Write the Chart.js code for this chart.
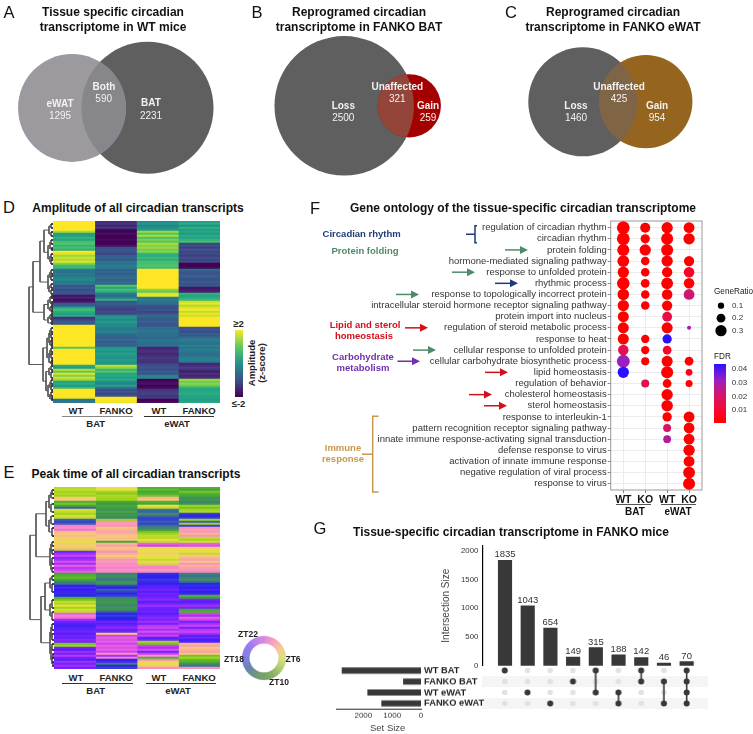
<!DOCTYPE html>
<html><head><meta charset="utf-8">
<script src="https://cdn.jsdelivr.net/npm/chart.js@4"></script>
<style>
html,body{margin:0;padding:0;background:#fff;width:753px;height:734px;overflow:hidden;position:relative;font-family:"Liberation Sans",Arial,sans-serif}
canvas{position:absolute}
.t{position:absolute;white-space:nowrap;transform:translate(-50%,-50%);line-height:1}
.r{position:absolute}
</style></head><body>
<script>
/* ---------- Venn panels A, B, C ---------- */
const vennCounts=[2821,1885,2821,580,1885,1379];
const vennScale=[1.243,1.243,1.313,1.313,1.256,1.256];
const vennX=[147.5,72,344.2,409.3,582.8,645.8];
const vennY=[107.8,108,105.8,105.8,101.8,101.7];
const vennColors=['#5f5f5f','#9c9a9f','#5f5f60','#a50000','#5f5f60','#95651f'];
const vennPairs=[[0,1,'#87868a'],[2,3,'#93453a'],[4,5,'#7f6546']];

/* ---------- Heatmap D: amplitude z-scores per transcript cluster row ---------- */
const ampBatWt=[2,2,2,2,2,1.5,.2,.2,.6,.3,.8,.9,.6,.8,.5,2,1.8,1.4,1.7,1.5,1.8,1.2,.7,.7,-.4,-.6,-.3,-.5,-.2,-.1,-.4,-.3,-1,-.8,-1.1,-.9,-1,-1.8,-1.6,-1.9,-1.7,-.9,-.7,.4,.8,.5,.2,.5,-1.5,-1.2,-.8,-.9,2,2,2,2,2,2,2,2,2,2,2,.9,2,2,2,2,2,2,2,2,.4,.1,1.6,1,1.8,1.2,1.7,1.4,.3,.5,.1,.7,2,2,2,2,1.9,-.5,-.4];
const ampBatFanko=[-1.5,-1.4,-1.6,-1.3,-1.9,-2,-1.8,-2,-2,-1.9,-2,-2,-1.8,-1.1,-.9,-1,-1.2,-.8,-.7,-1,-.4,-.5,-.3,-.4,-.8,-.6,-.9,-.7,-.5,-.8,-.6,-.7,.9,.4,.8,.5,-.4,-.6,-.3,.6,-.9,-.8,-1,-1.2,-1.3,-1.1,-1.2,-.1,.1,-.2,.2,0,-.1,-.3,-.4,-.2,-.5,-.7,-.8,-.6,-.9,-.7,-.8,.1,.2,0,.3,.1,0,.2,.1,0,1.6,1.3,.6,.9,.3,.4,.2,.5,0,-.3,.3,-.5,-1.1,-.9,-1.2,-1,2,2,1.9];
const ampEwatWt=[-.1,.1,-.2,0,.2,1.4,.9,1.5,.8,1.2,.9,1.5,1.2,1.4,1.1,1.3,.6,.5,.7,.5,.8,.8,.9,.7,2,2,2,2,2,2,2,2,2,2,1.3,1,1.8,1.9,-.4,-.3,-.5,-.6,-1,-1.1,-.9,-1.2,-1,-.6,-.8,-.9,-.7,-1,-.9,-.6,-.5,-.4,-.6,-.5,-.7,-.4,-.5,-.6,-.5,-1.6,-1.5,-1.4,-1.6,-1.5,-1.3,-1.4,-1.5,-1.2,-1,-.9,-1.1,-.8,-1,-.2,-.1,-2,-1.9,-1.8,-2,-1.9,-1.4,-1.3,-1.2,-1.4,-1.3,-2,-1.9];
const ampEwatFanko=[.2,.5,0,.6,.2,.4,.1,.5,.3,.6,.8,-1.2,-1,-1.3,-.9,-1.2,-1.1,-1.3,-1,-1.2,-1.1,-2,-2,-1.9,-.6,-.9,-1,-.7,-.9,-1.1,-.8,-1,-.9,-1.8,-1.7,-1.6,.6,.3,.5,.7,1.7,1.9,1.5,1.8,2,1.6,1.9,1.7,2,2,2,2,2,-1,-.9,-1.1,-.8,-.9,-.5,-.3,-.4,-.6,-.2,-.5,-.3,-.4,-.6,-.5,-.3,-.2,-.4,-1.6,-1.5,-1.2,-1.5,-1.7,-1.4,-1.6,-1.5,1.4,1.1,1.3,1,.5,.3,.4,.5,.3,.3,.2,.4];
const treeD=[24,[20,[13,[9,[4,[2,1,3],[2,5,7]],[5,[3,[2,9,11],[1,13,14]],[3,[2,16,18],[2,19,21]]]],[5,[3,[2,24,26],[2,27,29]],[4,[2,31,33],[2,34,36]]]],[9,[5,[3,[2,37,38],[2,40,41]],[3,[2,42,43],[1,44,45]]],[5,[3,[2,46,47],[2,48,49]],[2,50,51]]]],[10,[6,[4,[3,[2,53,55],[2,56,58]],[3,[2,59,60],[2,61,62]]],[4,[3,[2,63,65],[2,66,68]],[2,[1,69,70],71]]],[7,[4,[2,72,74],[2,75,78]],[5,[3,[2,79,81],[2,82,84]],[3,[2,85,87],[1,88,89]]]]]];

/* ---------- Heatmap E: peak time (ZT hour) per row ---------- */
const peakBatWt=[7.5,7,8,7.5,8,4,4,10,9,11,16,6.5,7,8,6.5,7,16,17,16,0,1,23.5,3,4.5,3,5,4,6,4,5,3.5,7,20,21,22,20.5,21,22.5,21,23,21.5,22,23,11,10,9.5,11,14,15,18,19,18,18.5,17.5,18,10,9,7,7.5,6,8,6.5,7,23,0,23.5,21,20,19,18.5,19,19.5,20,19,20,19.5,20.5,20,9,8,20,19,21,20,21.5,20,19,21,20,21,20];
const peakBatFanko=[6,5.5,8,8.5,7.5,8,8,11,12,11,11.5,13,11,13,12,14,8,1,2,1,4,3,2,3,4,3.5,4,11,3,2,4,3,1,2.5,5,3,1,2,.5,1,0,1,.5,14,13,14,15,12,13,17,18,16,17,18,17,14,13,12,13,14,12,13,16,18,17,18,18,20,19,20,20.5,19.5,20,5,22,23,22.5,23,22,23,22.5,23,22,1,21,0,18,19,14,18,17];
const peakEwatWt=[10,9.5,11,10,9,3,4,10,11,6,7,15,16,13,15,17,17,16,17,15,14,12,9,8,7,7.5,6,7,23,22,5,6,5,4,6,6,7,5,6.5,1,0,2,.5,17.5,18,18,17,18.5,18,19,19.5,20,19,20,19.5,20,20.5,19,20,21,20,19.5,20,19,20,20.5,20,21,20,21.5,22,21,22.5,21,22,19,20,8,9,22,21,22.5,20,22,1,10,.5,5,6,4,1];
const peakEwatFanko=[10,11,9,10,11,13,12,14,13,8,9,8,7.5,17,18,17,8,16,8,17,1,2,1.5,3,1,7,8,6.5,23,22.5,4,6,5,7,4,3,2,4,1,3,2,1.5,.5,14,15,14,13,15,18,17.5,18,19,18,18.5,10,12,20,19,20,21,20,11,10,22,21,23,22,20,21,22,20,21.5,22,21,19,20,18.5,19,3,2,4,3,2,4,9,8,9.5,10,13,15,1];
const treeE=[24,[18,[8,[5,[3,[2,1,3],5],[3,8,12]],[5,[3,14,18],[2,20,24]]],[4,[3,[2,27,29],[2,31,33]],[3,[2,35,38],[2,40,42]]]],[13,[9,[4,[2,44,46],[2,48,52]],[4,[2,56,60],[2,62,66]]],[4,[3,[2,68,71],[2,73,76]],[3,[2,78,81],[2,[1,83,85],[1,87,89]]]]]];
const rowNames=ampBatWt.map((_,i)=>'row '+(i+1));
const heatColumns=['WT','FANKO','WT','FANKO'];

/* ---------- Dot plot F ---------- */
const goTerms=['regulation of circadian rhythm','circadian rhythm','protein folding','hormone-mediated signaling pathway','response to unfolded protein','rhythmic process','response to topologically incorrect protein','intracellular steroid hormone receptor signaling pathway','protein import into nucleus','regulation of steroid metabolic process','response to heat','cellular response to unfolded protein','cellular carbohydrate biosynthetic process','lipid homeostasis','regulation of behavior','cholesterol homeostasis','sterol homeostasis','response to interleukin-1','pattern recognition receptor signaling pathway','innate immune response-activating signal transduction','defense response to virus','activation of innate immune response','negative regulation of viral process','response to virus'];
const goColumns=['WT','KO','WT','KO'];
const _=null;
const ratioBatWt=[.36,.36,.33,.32,.3,.35,.31,.3,.29,.29,.29,.27,.36,.3,_,_,_,_,_,_,_,_,_,_];
const ratioBatKo=[.25,.22,.3,.19,.19,.2,.19,.19,_,_,.18,.18,.17,_,.17,_,_,_,_,_,_,_,_,_];
const ratioEwatWt=[.3,.33,.33,.3,.26,.32,.27,.26,.24,.29,.22,.2,.29,.33,.2,.3,.31,.22,.17,.16,_,_,_,_];
const ratioEwatKo=[.28,.3,_,.26,.27,.27,.28,_,_,.01,_,_,.2,.12,.13,_,_,.28,.28,.28,.3,.28,.32,.33];
const fdrBatWt=[0,0,0,0,0,0,0,0,0,0,0,.014,.03,.042,_,_,_,_,_,_,_,_,_,_];
const fdrBatKo=[0,0,0,0,0,0,0,0,_,_,0,0,0,_,.013,_,_,_,_,_,_,_,_,_];
const fdrEwatWt=[0,0,0,0,0,0,0,0,.012,0,.042,.006,0,0,0,0,0,0,.018,.025,_,_,_,_];
const fdrEwatKo=[0,0,_,0,.006,0,.02,_,_,.028,_,_,0,.004,0,_,_,0,0,0,0,0,0,0];
const arrowTerms=[[2,505,528,'#4f8a6a'],[4,452,475,'#4f8a6a'],[5,495,518,'#1f3a7a'],[6,396,419,'#4f8a6a'],[9,405,428,'#d0101a'],[11,413,436,'#4f8a6a'],[12,397.5,420,'#7030b0'],[13,485,508,'#d0101a'],[15,469,492,'#d0101a'],[16,484,507,'#d0101a']];
const ratioLegend=[.1,.2,.3];

/* ---------- UpSet G ---------- */
const setNames=['WT BAT','FANKO BAT','WT eWAT','FANKO eWAT'];
const setSizes=[2740,610,1850,1365];
const setSizeTicks=[0,1000,2000];
const intersectionSizes=[1835,1043,654,149,315,188,142,46,70];
const intersectionTicks=[0,500,1000,1500,2000];
const intersectionMembers=[[0],[2],[3],[1],[0,2],[2,3],[0,1],[1,3],[0,1,2,3]];

/* ---------- helpers ---------- */
Chart.defaults.font.family='"Liberation Sans",Arial,sans-serif';
Chart.defaults.animation=false;
Chart.defaults.responsive=false;
Chart.defaults.maintainAspectRatio=false;
Chart.defaults.events=[];
Chart.defaults.layout.autoPadding=false;
Chart.defaults.plugins.legend.display=false;
Chart.defaults.plugins.tooltip.enabled=false;
function mk(x,y,w,h){const c=document.createElement('canvas');c.width=w;c.height=h;c.style.left=x+'px';c.style.top=y+'px';c.style.width=w+'px';c.style.height=h+'px';document.body.appendChild(c);return c.getContext('2d');}
function T(x,y,s,o={}){const d=document.createElement('div');d.className='t';d.textContent=s;d.style.left=x+'px';d.style.top=y+'px';d.style.fontSize=(o.size||10)+'px';d.style.fontWeight=o.bold?'bold':'normal';d.style.color=o.color||'#111';if(o.rot)d.style.transform='translate(-50%,-50%) rotate('+o.rot+'deg)';if(o.left)d.style.transform='translate(0,-50%)';document.body.appendChild(d);}
function R(x,y,w,h,bg){const d=document.createElement('div');d.className='r';d.style.cssText+=`left:${x}px;top:${y}px;width:${w}px;height:${h}px;background:${bg}`;document.body.appendChild(d);}
function hex(c){return [1,3,5].map(i=>parseInt(c.substr(i,2),16));}
function ramp(stops,v){if(v<=stops[0][0])return stops[0][1];for(let i=1;i<stops.length;i++){if(v<=stops[i][0]){const f=(v-stops[i-1][0])/(stops[i][0]-stops[i-1][0]);const a=hex(stops[i-1][1]),b=hex(stops[i][1]);return 'rgb('+a.map((p,k)=>Math.round(p+(b[k]-p)*f)).join(',')+')';}}return stops[stops.length-1][1];}
const viridisStops=[[-2,'#440154'],[-1.5,'#472d7b'],[-1,'#3b528b'],[-.5,'#2c728e'],[0,'#21918c'],[.5,'#28ae80'],[1,'#5ec962'],[1.5,'#addc30'],[2,'#fde725']];
const peakStops=[[0,'#f77fd0'],[2,'#f9a0b0'],[4,'#f8c878'],[6,'#e6e23a'],[8,'#a0d41e'],[10,'#4fb22e'],[12,'#3f9a45'],[14,'#3c8572'],[16,'#3a5fb0'],[18,'#2f22f0'],[20,'#7422ff'],[22,'#d040f0'],[24,'#f77fd0']];
const fdrStops=[[0,'#ff0000'],[.005,'#fa0222'],[.01,'#f00a3c'],[.02,'#cf1670'],[.03,'#9a1fc0'],[.042,'#2a10ff']];
const ringStops=[[0,'#d888e0'],[25,'#f598c8'],[60,'#f7c890'],[90,'#dce080'],[120,'#b0d070'],[160,'#80a860'],[200,'#6f9a70'],[240,'#6a80b0'],[270,'#7a80e0'],[310,'#9a78ee'],[340,'#c080e8'],[360,'#d888e0']];

/* Venn */
new Chart(mk(0,0,753,190),{type:'bubble',
 data:{datasets:[{data:vennCounts.map((n,i)=>({x:vennX[i],y:vennY[i],r:vennScale[i]*Math.sqrt(n)})),backgroundColor:vennColors,borderWidth:0,hoverRadius:0}]},
 options:{layout:{padding:0},scales:{x:{display:false,min:0,max:753},y:{display:false,min:0,max:190,reverse:true}}},
 plugins:[{id:'overlap',afterDatasetsDraw(c){const pts=c.getDatasetMeta(0).data,g=c.ctx;vennPairs.forEach(([a,b,col])=>{const A=pts[a],B=pts[b];g.save();g.beginPath();g.arc(A.x,A.y,A.options.radius,0,7);g.clip();g.beginPath();g.arc(B.x,B.y,B.options.radius,0,7);g.fillStyle=col;g.fill();g.restore();});}}]});

/* Heatmaps */
function heat(x,y,w,h,cols,color){
 new Chart(mk(x,y,w,h),{type:'bar',
  data:{labels:rowNames,datasets:cols.map((arr,c)=>({data:arr.map(()=>[c,c+1]),backgroundColor:arr.map(color),borderWidth:0,barPercentage:1,categoryPercentage:1,grouped:false}))},
  options:{indexAxis:'y',layout:{padding:0},scales:{x:{type:'linear',display:false,min:0,max:4},y:{display:false}}}});
}
function tree(node,out,leaves){
 if(typeof node==='number'){leaves.push({x:.9,y:node});return{h:0,y:node};}
 const a=tree(node[1],out,leaves),b=tree(node[2],out,leaves),h=node[0];
 out.push({x:a.h,y:a.y},{x:h,y:a.y},{x:h,y:b.y},{x:b.h,y:b.y},{x:NaN,y:NaN});
 return{h,y:(a.y+b.y)/2};
}
function dendro(x,y,w,h,t){
 const segs=[],leaves=[];tree(t,segs,leaves);
 new Chart(mk(x,y,w,h),{type:'scatter',
  data:{datasets:[{data:leaves,pointRadius:1,backgroundColor:'#222',borderWidth:0},
   {data:segs,showLine:true,spanGaps:false,borderColor:'#5a5a5a',borderWidth:1,pointRadius:0}]},
  options:{layout:{padding:0},scales:{x:{display:false,min:0,max:w,reverse:true},y:{display:false,min:-.5,max:90.5,reverse:true}}}});
}
heat(53,220.7,167,182,[ampBatWt,ampBatFanko,ampEwatWt,ampEwatFanko],v=>ramp(viridisStops,v));
dendro(25,220.7,28,182,treeD);
heat(54,487,166,182,[peakBatWt,peakBatFanko,peakEwatWt,peakEwatFanko],v=>ramp(peakStops,v));
dendro(25,487,29,182,treeE);

/* Ring legend */
const ringAngles=[];for(let a=3.75;a<360;a+=7.5)ringAngles.push(a);
new Chart(mk(240,634,48,48),{type:'doughnut',
 data:{labels:ringAngles.map(String),datasets:[{data:ringAngles.map(()=>1),backgroundColor:ringAngles.map(a=>ramp(ringStops,a)),borderColor:ringAngles.map(a=>ramp(ringStops,a)),borderWidth:.6}]},
 options:{cutout:'68%',radius:21.7,layout:{padding:0}}});

/* Dot plot F */
const goRatios=[ratioBatWt,ratioBatKo,ratioEwatWt,ratioEwatKo],goFdrs=[fdrBatWt,fdrBatKo,fdrEwatWt,fdrEwatKo];
const radiusOf=g=>1.9+12.5*g;
const goPts=[],goCols=[];
goRatios.forEach((arr,c)=>arr.forEach((g,r)=>{if(g!==null){goPts.push({x:c,y:r,r:radiusOf(g)});goCols.push(ramp(fdrStops,goFdrs[c][r]));}}));
new Chart(mk(300,210,410,296),{type:'bubble',
 data:{datasets:[{data:goPts,backgroundColor:goCols,borderWidth:0}]},
 options:{layout:{padding:{top:11,right:8,left:0,bottom:0}},
  scales:{
   x:{min:-.575,max:3.59,afterBuildTicks:s=>{s.ticks=goColumns.map((_,i)=>({value:i}));},afterFit:s=>{s.height=16;},
      border:{display:false},grid:{color:'#ececec',lineWidth:1,tickLength:3,tickColor:'#888'},
      ticks:{autoSkip:false,maxRotation:0,padding:1,color:'#111',font:{size:10.5,weight:'bold'},callback:v=>goColumns[v]}},
   y:{min:-.6,max:23.57,reverse:true,afterBuildTicks:s=>{s.ticks=goTerms.map((_,i)=>({value:i}));},afterFit:s=>{s.width=310.7;},
      border:{display:false},grid:{color:'#ececec',lineWidth:1,tickLength:3,tickColor:'#888'},
      ticks:{autoSkip:false,padding:1,color:'#333',font:{size:9.5},callback:v=>goTerms[v]}}}},
 plugins:[{id:'notes',beforeDatasetsDraw(c){const g=c.ctx,a=c.chartArea;g.save();g.strokeStyle='#9a9a9a';g.lineWidth=1;g.strokeRect(a.left,a.top,a.right-a.left,a.bottom-a.top);g.restore();},
  afterDraw(c){const g=c.ctx,yS=c.scales.y,ox=300;g.save();
   arrowTerms.forEach(([t,x0,x1,col])=>{const y=yS.getPixelForValue(t);g.strokeStyle=col;g.fillStyle=col;g.lineWidth=1.5;g.beginPath();g.moveTo(x0-ox,y);g.lineTo(x1-ox-7,y);g.stroke();g.beginPath();g.moveTo(x1-ox,y);g.lineTo(x1-ox-8,y-4);g.lineTo(x1-ox-8,y+4);g.closePath();g.fill();});
   function bracket(t0,t1,x,tip,stem,col){const a=yS.getPixelForValue(t0),b=yS.getPixelForValue(t1),m=(a+b)/2;g.strokeStyle=col;g.lineWidth=1.5;g.beginPath();g.moveTo(tip-ox,a);g.lineTo(x-ox,a);g.lineTo(x-ox,b);g.lineTo(tip-ox,b);g.moveTo(stem-ox,m);g.lineTo(x-ox,m);g.stroke();}
   bracket(-.18,1.35,475,477,466,'#1f3a7a');
   bracket(16.95,23.75,372.7,378.5,362,'#c8984f');
   g.restore();}}]});

/* Legend F */
new Chart(mk(712,289,41,58),{type:'bubble',
 data:{datasets:[{data:ratioLegend.map((g,i)=>({x:.5,y:i,r:radiusOf(g)})),backgroundColor:'#000',borderWidth:0}]},
 options:{layout:{padding:{top:10.45,bottom:10.05,left:0,right:0}},scales:{x:{display:false,min:0,max:1},
  y:{position:'right',min:-.5,max:2.5,reverse:true,afterBuildTicks:s=>{s.ticks=ratioLegend.map((_,i)=>({value:i}));},afterFit:s=>{s.width=23;},border:{display:false},grid:{display:false,drawTicks:false},
     ticks:{autoSkip:false,padding:2,color:'#333',font:{size:8},callback:v=>ratioLegend[v].toFixed(1)}}}}});

/* UpSet bars */
new Chart(mk(440,535,270,143),{type:'bar',
 data:{datasets:[{data:intersectionSizes.map((v,i)=>({x:i,y:v})),backgroundColor:'#383838',borderWidth:0,barThickness:13.5}]},
 options:{layout:{padding:{top:10.7,right:2,bottom:12.3,left:0}},
  scales:{x:{type:'linear',offset:false,display:false,min:-1,max:8.94},
   y:{min:0,max:2092,afterBuildTicks:s=>{s.ticks=intersectionTicks.map(value=>({value}));},afterFit:s=>{s.width=42.3;},border:{color:'#000',width:1.2},grid:{display:false,tickLength:3,tickColor:'#333'},
      ticks:{padding:1,color:'#333',font:{size:7.8},callback:v=>String(v)},
      title:{display:true,text:'Intersection Size',color:'#444',font:{size:10},padding:{top:0,bottom:5}}}}},
 plugins:[{id:'barLabels',afterDatasetsDraw(c){const g=c.ctx;g.save();g.font='9.5px "Liberation Sans"';g.fillStyle='#333';g.textAlign='center';g.textBaseline='bottom';c.getDatasetMeta(0).data.forEach((b,i)=>{g.fillText(intersectionSizes[i],b.x,b.y-1);});g.restore();}}]});

/* UpSet matrix */
const matrixBg=[];intersectionSizes.forEach((_,i)=>setNames.forEach((_,j)=>matrixBg.push({x:i,y:j})));
const matrixSets=intersectionMembers.map((m,i)=>({data:m.map(j=>({x:i,y:j})),showLine:true,borderColor:'#383838',borderWidth:1.6,pointRadius:3,pointBackgroundColor:'#383838',pointBorderWidth:0}));
new Chart(mk(482.3,665.2,225.7,44),{type:'scatter',
 data:{datasets:[...matrixSets,{data:matrixBg,pointRadius:2.8,pointBackgroundColor:'#e2e2e2',pointBorderWidth:0}]},
 options:{layout:{padding:0},scales:{x:{display:false,min:-1,max:8.94},y:{display:false,min:-.5,max:3.5,reverse:true}}},
 plugins:[{id:'stripes',beforeDatasetsDraw(c){const g=c.ctx,a=c.chartArea,y=c.scales.y;g.save();g.fillStyle='#f5f5f5';[1,3].forEach(r=>{const t=y.getPixelForValue(r-.5),b=y.getPixelForValue(r+.5);g.fillRect(a.left,t,a.right-a.left,b-t);});g.restore();}}]});

/* UpSet set sizes */
new Chart(mk(330,655.2,161,78.8),{type:'bar',
 data:{labels:setNames,datasets:[{data:setSizes,backgroundColor:'#383838',borderWidth:0,barThickness:5.4}]},
 options:{indexAxis:'y',layout:{padding:{left:6,right:0,top:10,bottom:0}},
  scales:{x:{reverse:true,min:0,max:2950,afterBuildTicks:s=>{s.ticks=setSizeTicks.map(value=>({value}));},afterFit:s=>{s.height=24.8;},border:{color:'#333',width:1},grid:{display:false,tickLength:2,tickColor:'#333'},
     ticks:{padding:0,color:'#333',maxRotation:0,font:{size:8},callback:v=>String(v)}},
   y:{position:'right',afterFit:s=>{s.width=70;},border:{display:false},grid:{display:false,drawTicks:false},
     ticks:{autoSkip:false,padding:3,color:'#222',font:{size:9.3,weight:'bold'}}}}}});

/* ---------- text & decorations ---------- */
const L={size:16.5};
T(9,12,'A',L);T(257,12,'B',L);T(511,12,'C',L);T(9,207,'D',L);T(9,472,'E',L);T(315,208,'F',L);T(320,528,'G',L);
const H={size:12,bold:true};
T(113,12,'Tissue specific circadian',H);T(113,27,'transcriptome in WT mice',H);
T(359,12,'Reprogramed circadian',H);T(359,27,'transcriptome in FANKO BAT',H);
T(613,12,'Reprogramed circadian',H);T(613,27,'transcriptome in FANKO eWAT',H);
T(138,208,'Amplitude of all circadian transcripts',H);
T(136,474,'Peak time of all circadian transcripts',H);
T(523,208,'Gene ontology of the tissue-specific circadian transcriptome',H);
T(511,532,'Tissue-specific circadian transcriptome in FANKO mice',H);
T(387.7,728,'Set Size',{size:9.5,color:'#444'});
const W={size:10,color:'#f2f2f2'},WB={size:10,color:'#f2f2f2',bold:true};
T(60,104,'eWAT',WB);T(60,116,'1295',W);T(104,87,'Both',WB);T(103.7,99,'590',W);T(151,103,'BAT',WB);T(151,116,'2231',W);
T(343.3,106,'Loss',WB);T(343.3,118,'2500',W);T(397.3,87,'Unaffected',WB);T(397.3,99,'321',W);T(428,106,'Gain',WB);T(428,118,'259',W);
T(576,106,'Loss',WB);T(576,118,'1460',W);T(619,87,'Unaffected',WB);T(619,99,'425',W);T(657,106,'Gain',WB);T(657,118,'954',W);
const B={size:9.5,bold:true,color:'#222'};
[[76,heatColumns[0]],[116,heatColumns[1]],[159,heatColumns[2]],[199,heatColumns[3]]].forEach(([x,s])=>{T(x,410.7,s,B);T(x,677.7,s,B);});
R(62.3,415.5,71,1,'#888');R(144,415.5,70,1,'#333');R(62,682.5,71,1,'#333');R(146,682.5,70,1,'#333');
T(95.7,423.5,'BAT',B);T(177,423.5,'eWAT',B);T(95.7,690.5,'BAT',B);T(178,690.5,'eWAT',B);
R(234.7,330,8,67.3,'linear-gradient(to top,#440154,#3b528b,#21918c,#5ec962,#fde725)');
T(238.5,324,'≥2',B);T(238.5,404,'≤-2',B);
T(251.7,363,'Amplitude',{size:9.5,bold:true,color:'#222',rot:-90});T(262,363,'(z-score)',{size:9.5,bold:true,color:'#222',rot:-90});
const Z={size:8.5,bold:true,color:'#222'};
T(248,634,'ZT22',Z);T(293,659,'ZT6',Z);T(279,682,'ZT10',Z);T(234,659,'ZT18',Z);
const g9={size:9.5,bold:true};
T(361.7,233.7,'Circadian rhythm',{...g9,color:'#1f3a7a'});T(365,251,'Protein folding',{...g9,color:'#4f8a6a'});
T(365,325,'Lipid and sterol',{...g9,color:'#d0101a'});T(364,336,'homeostasis',{...g9,color:'#d0101a'});
T(363,356.7,'Carbohydrate',{...g9,color:'#7030b0'});T(363,367.5,'metabolism',{...g9,color:'#7030b0'});
T(343,447.7,'Immune',{...g9,color:'#c8984f'});T(343,459,'response',{...g9,color:'#c8984f'});
R(616,504,35,1,'#555');R(660.7,504,35.3,1,'#555');
T(635,511.5,'BAT',{size:10,bold:true});T(678,511.5,'eWAT',{size:10,bold:true});
T(714,292,'GeneRatio',{size:8.2,color:'#222',left:true});T(714,356.7,'FDR',{size:8.2,color:'#222',left:true});
R(714,364,11.7,59,'linear-gradient(to bottom,#2a10ff 0%,#9a1fc0 27%,#cf1670 50%,#f00a3c 73%,#ff0000 100%)');
[[368.7,'0.04'],[382.7,'0.03'],[396.7,'0.02'],[410,'0.01']].forEach(([y,s])=>T(731.7,y,s,{size:8,color:'#333',left:true}));
</script>
</body></html>
